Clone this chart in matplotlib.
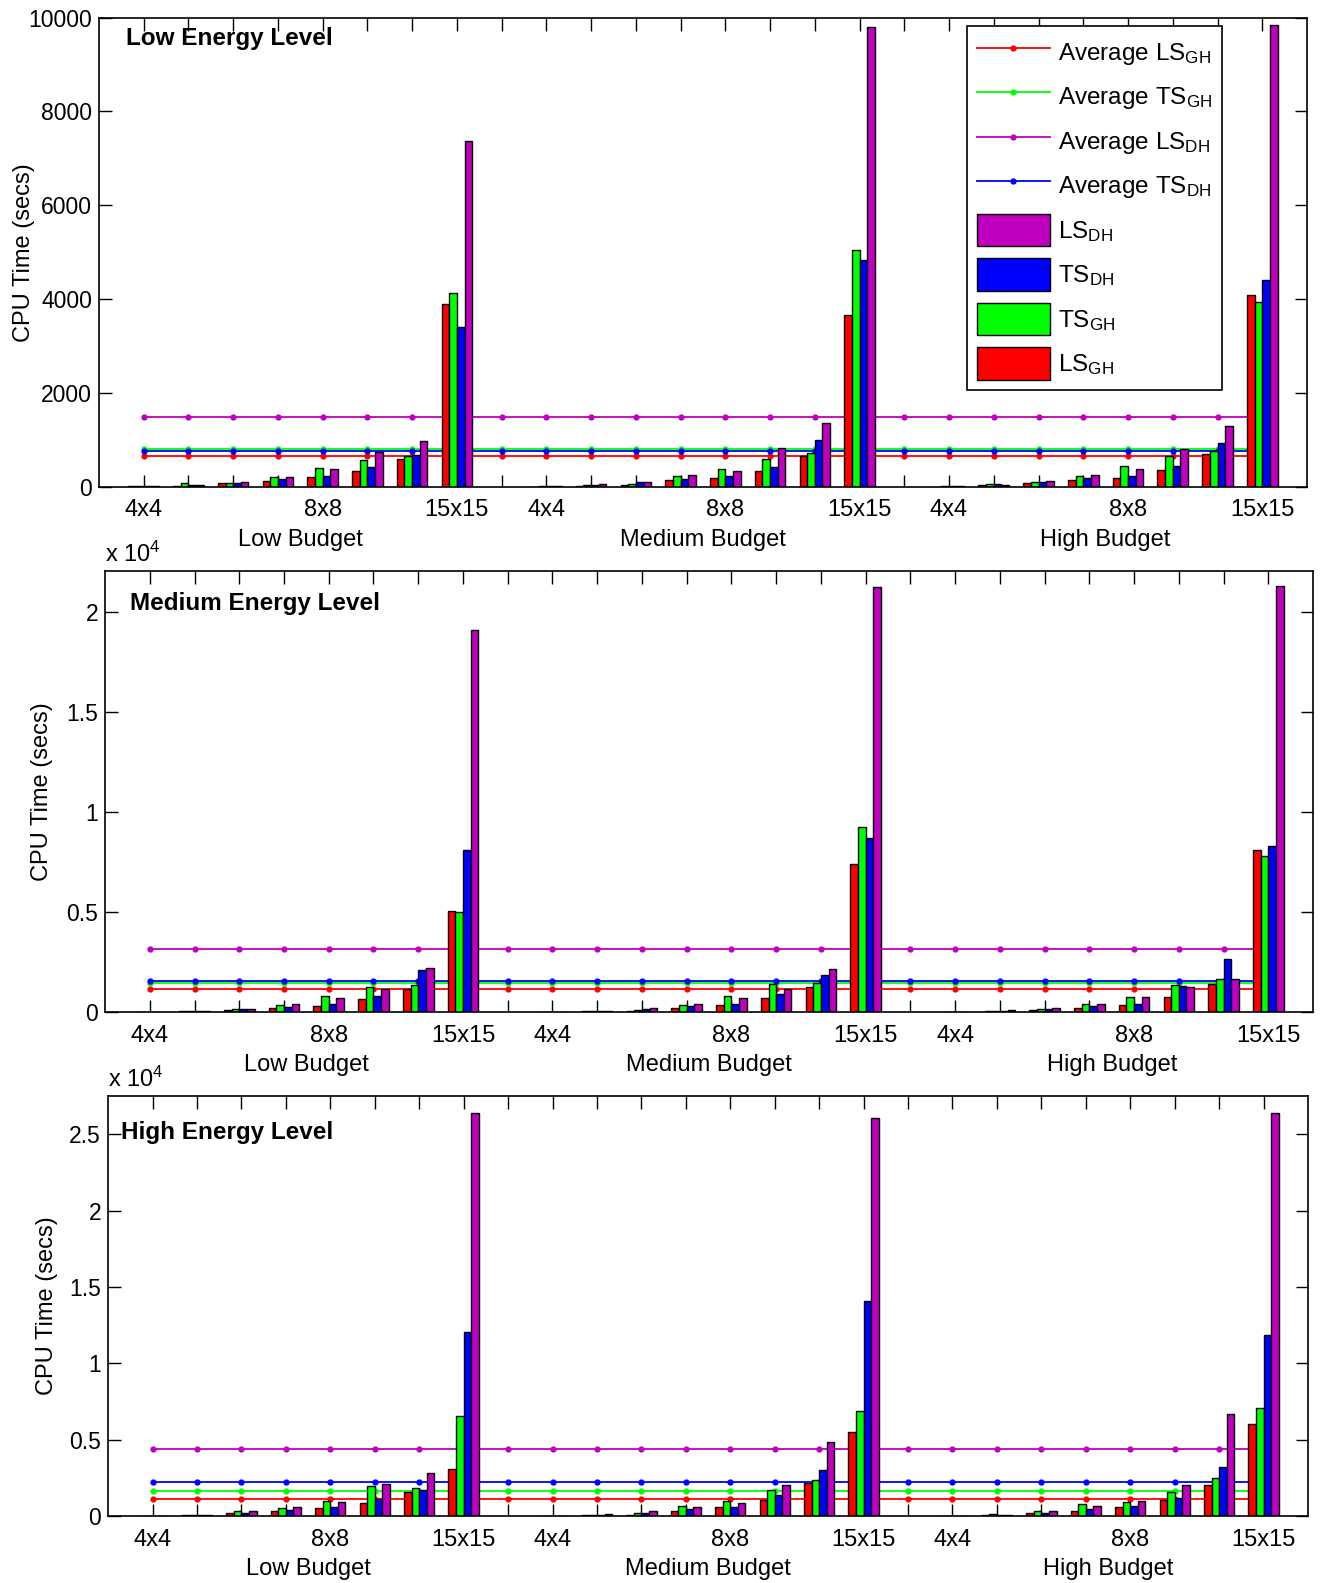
import numpy as np
import matplotlib
matplotlib.use("Agg")
import matplotlib.pyplot as plt
from matplotlib.lines import Line2D
from matplotlib.patches import Patch

plt.rcParams['font.family'] = ['Liberation Sans', 'DejaVu Sans']
plt.rcParams['mathtext.fontset'] = 'custom'
plt.rcParams['mathtext.rm'] = 'Liberation Sans'
plt.rcParams['mathtext.it'] = 'Liberation Sans:italic'
plt.rcParams['mathtext.bf'] = 'Liberation Sans:bold'

# grid sizes per budget (only some are labelled), budgets
tick_names = ['4x4', '', '', '', '8x8', '', '', '15x15']
budgets = ['Low Budget', 'Medium Budget', 'High Budget']

# ---- Low energy level (low | medium | high budget) ----
low_ls_gh = [10, 20, 75, 120, 210, 330, 590, 3900,
             5, 30, 37, 142, 194, 336, 658, 3660,
             5, 37, 82, 150, 187, 366, 695, 4081]
low_ts_gh = [10, 75, 82, 210, 410, 580, 650, 4130,
             10, 45, 52, 232, 381, 598, 732, 5045,
             10, 52, 105, 232, 441, 658, 755, 3931]
low_ts_dh = [10, 37, 82, 165, 230, 425, 670, 3410,
             10, 45, 97, 165, 232, 419, 1009, 4830,
             10, 52, 97, 187, 232, 441, 927, 4417]
low_ls_dh = [15, 45, 105, 210, 375, 740, 980, 7380,
             15, 52, 112, 247, 344, 830, 1368, 9806,
             15, 45, 120, 247, 374, 807, 1300, 9851]
low_avg = {'ls_gh': 665, 'ts_gh': 807, 'ls_dh': 1480, 'ts_dh': 770}

# ---- Medium energy level ----
med_ls_gh = [10, 60, 135, 200, 300, 690, 1160, 5070,
             10, 50, 67, 236, 354, 741, 1247, 7414,
             10, 67, 135, 236, 354, 792, 1415, 8121]
med_ts_gh = [15, 80, 150, 390, 840, 1250, 1380, 5000,
             10, 67, 100, 390, 843, 1432, 1483, 9250,
             10, 67, 168, 438, 792, 1382, 1668, 7818]
med_ts_dh = [10, 70, 150, 290, 400, 830, 2140, 8090,
             20, 67, 150, 337, 438, 944, 1887, 8711,
             15, 67, 150, 303, 438, 1331, 2645, 8290]
med_ls_dh = [20, 70, 170, 440, 740, 1150, 2240, 19090,
             20, 67, 236, 440, 708, 1196, 2157, 21230,
             20, 100, 200, 404, 775, 1247, 1685, 21281]
med_avg = {'ls_gh': 1196, 'ts_gh': 1466, 'ls_dh': 3150, 'ts_dh': 1567}

# ---- High energy level ----
high_ls_gh = [15, 65, 175, 305, 523, 872, 1591, 3073,
              10, 65, 87, 349, 567, 1068, 2136, 5514,
              10, 87, 174, 349, 610, 1068, 2027, 6037]
high_ts_gh = [20, 87, 327, 523, 981, 1940, 1831, 6560,
              15, 87, 174, 654, 959, 1700, 2354, 6887,
              15, 131, 327, 785, 937, 1548, 2507, 7084]
high_ts_dh = [15, 87, 196, 414, 588, 1133, 1700, 12075,
              15, 65, 218, 436, 610, 1351, 2986, 14080,
              15, 87, 196, 480, 632, 1199, 3226, 11857]
high_ls_dh = [20, 87, 327, 610, 894, 2092, 2833, 26395,
              20, 109, 327, 610, 872, 2049, 4860, 26090,
              20, 87, 349, 654, 1003, 2027, 6670, 26417]
high_avg = {'ls_gh': 1133, 'ts_gh': 1613, 'ls_dh': 4403, 'ts_dh': 2245}

RED, GREEN, BLUE, MAG = '#ff0000', '#00ff00', '#0000ff', '#bf00bf'
FS = 17

# x positions: 8 groups per budget, one empty slot between budgets
xpos = np.array([b * 9 + g + 1 for b in range(3) for g in range(8)])
all_ticks = np.arange(1, 27)
tick_labels = [''] * 26
for b in range(3):
    for g in range(8):
        tick_labels[b * 9 + g] = tick_names[g]

panels = [
    ('Low Energy Level', [low_ls_gh, low_ts_gh, low_ts_dh, low_ls_dh], low_avg,
     10000, [0, 2000, 4000, 6000, 8000, 10000], ['0', '2000', '4000', '6000', '8000', '10000'],
     False, [0.0749, 0.6924, 0.9145, 0.2965], (0.6, 9550), -0.053),
    ('Medium Energy Level', [med_ls_gh, med_ts_gh, med_ts_dh, med_ls_dh], med_avg,
     22000, [0, 5000, 10000, 15000, 20000], ['0', '0.5', '1', '1.5', '2'],
     True, [0.0795, 0.3604, 0.9145, 0.2786], (0.55, 20400), -0.043),
    ('High Energy Level', [high_ls_gh, high_ts_gh, high_ts_dh, high_ls_dh], high_avg,
     27500, [0, 5000, 10000, 15000, 20000, 25000], ['0', '0.5', '1', '1.5', '2', '2.5'],
     True, [0.0818, 0.0423, 0.9084, 0.2653], (0.28, 25100), -0.042),
]

fig = plt.figure(figsize=(13.21, 15.83), dpi=100)

w = 0.171
colors = [RED, GREEN, BLUE, MAG]
for title, series, avg, ymax, yt, ytl, scaled, rect, tpos, ylab_x in panels:
    ax = fig.add_axes(rect)

    # average lines, behind the bars
    for key, c in [('ls_gh', RED), ('ts_gh', GREEN), ('ls_dh', MAG), ('ts_dh', BLUE)]:
        ax.plot(all_ticks, [avg[key]] * len(all_ticks), color=c, lw=1.3,
                marker='.', markersize=7, zorder=1)

    # grouped bars
    for i, (vals, c) in enumerate(zip(series, colors)):
        ax.bar(xpos + (i - 1.5) * w, vals, width=w, color=c,
               edgecolor='black', linewidth=1.0, zorder=2)

    ax.set_xlim(0, 27)
    ax.set_ylim(0, ymax)
    ax.set_xticks(all_ticks)
    ax.set_xticklabels(tick_labels, fontsize=FS)
    ax.set_yticks(yt)
    ax.set_yticklabels(ytl, fontsize=16.5)
    ax.tick_params(direction='in', top=True, right=True, length=9, width=1)
    ax.tick_params(axis='x', pad=9)
    ax.tick_params(axis='y', pad=5)
    for s in ax.spines.values():
        s.set_linewidth(1.2)

    ax.set_ylabel('CPU Time (secs)', fontsize=FS)
    ax.yaxis.set_label_coords(ylab_x, 0.5)

    ax.text(tpos[0], tpos[1], title, fontsize=17.5, fontweight='bold',
            ha='left', va='center')

    for b, name in enumerate(budgets):
        ax.annotate(name, xy=(b * 9 + 4.5, 0), xycoords=('data', 'axes fraction'),
                    xytext=(0, -38), textcoords='offset points',
                    ha='center', va='center', fontsize=FS)

    if scaled:
        ax.annotate(r'x 10$^{4}$', xy=(0, 1), xycoords='axes fraction',
                    xytext=(0, 3), textcoords='offset points',
                    ha='left', va='bottom', fontsize=FS)

    if title.startswith('Low'):
        handles = [
            Line2D([], [], color=RED, lw=1.3, marker='.', markersize=7),
            Line2D([], [], color=GREEN, lw=1.3, marker='.', markersize=7),
            Line2D([], [], color=MAG, lw=1.3, marker='.', markersize=7),
            Line2D([], [], color=BLUE, lw=1.3, marker='.', markersize=7),
            Patch(facecolor=MAG, edgecolor='black'),
            Patch(facecolor=BLUE, edgecolor='black'),
            Patch(facecolor=GREEN, edgecolor='black'),
            Patch(facecolor=RED, edgecolor='black'),
        ]
        labels = [r'Average LS$_{\mathrm{GH}}$', r'Average TS$_{\mathrm{GH}}$',
                  r'Average LS$_{\mathrm{DH}}$', r'Average TS$_{\mathrm{DH}}$',
                  r'LS$_{\mathrm{DH}}$', r'TS$_{\mathrm{DH}}$',
                  r'TS$_{\mathrm{GH}}$', r'LS$_{\mathrm{GH}}$']
        leg = ax.legend(handles, labels, loc='upper right',
                        bbox_to_anchor=(0.9296, 0.9827), borderaxespad=0,
                        fontsize=17.5, frameon=True, fancybox=False,
                        framealpha=1, edgecolor='black',
                        handlelength=3.0, handleheight=1.69,
                        handletextpad=0.33, labelspacing=0.49, borderpad=0.4)
        leg.get_frame().set_linewidth(1.2)

fig.savefig('out.png', dpi=100)
